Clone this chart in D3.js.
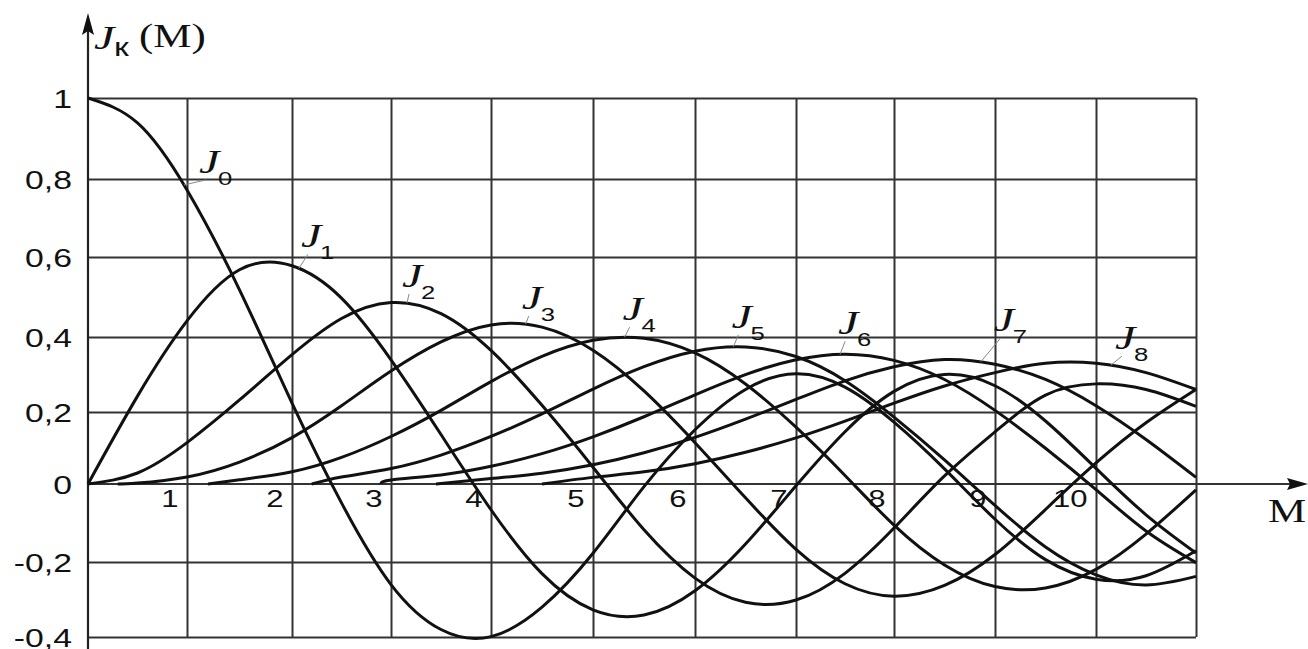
<!DOCTYPE html>
<html><head><meta charset="utf-8">
<script src="https://cdn.jsdelivr.net/npm/d3@7"></script>
<style>body{margin:0;background:#fff}svg{display:block}</style>
</head><body>
<svg id="c" width="1308" height="649"></svg>
<script>
// ---- data ----
const M = [0,0.5,1,1.5,2,2.5,3,3.5,4,4.5,5,5.5,6,6.5,7,7.5,8,8.5,9,9.5,10,10.5,11];
const J0 = [1,.9385,.7720,.5180,.2239,-.0484,-.2601,-.3801,-.3990,-.3205,-.1776,-.0068,.1506,.2601,.3020,.2663,.1717,.0419,-.0903,-.1939,-.2459,-.2366,-.1712];
const J1 = [0,.2423,.4401,.5680,.5780,.4971,.3391,.1374,-.0660,-.2311,-.3276,-.3414,-.2767,-.1538,-.0047,.1452,.2550,.3000,.2700,.1750,.0435,-.0789,-.1768];
const J2 = [0,.0306,.1149,.2321,.3528,.4461,.4861,.4586,.3641,.2178,.0466,-.1173,-.2429,-.3074,-.3014,-.2302,-.1130,.0224,.1448,.2450,.2750,.2600,.2150];
const J3 = [null,.0026,.0196,.0610,.1289,.2166,.3091,.3868,.4302,.4247,.3648,.2561,.1148,-.0354,-.1676,-.2580,-.2911,-.2626,-.1809,-.0653,.0584,.1700,.2600];
const J4 = [null,null,null,.0118,.0340,.0738,.1320,.2044,.2811,.3484,.3912,.3967,.3576,.2747,.1578,.0238,-.1054,-.2078,-.2655,-.2691,-.2196,-.1283,-.0150];
const J5 = [null,null,null,null,null,.0195,.0430,.0804,.1321,.1947,.2611,.3209,.3621,.3735,.3479,.2834,.1858,.0670,-.0550,-.1613,-.2341,-.2611,-.2383];
const J6 = [null,null,null,null,null,null,.0114,.0253,.0491,.0843,.1310,.1868,.2458,.2999,.3392,.3541,.3376,.2866,.2043,.0993,-.0145,-.1204,-.2016];
const J7 = [null,null,null,null,null,null,null,null,.0152,.0301,.0534,.0867,.1296,.1802,.2336,.2832,.3206,.3400,.3275,.2867,.2167,.1235,.0184];
const J8 = [null,null,null,null,null,null,null,null,null,null,.0184,.0339,.0565,.0882,.1280,.1745,.2235,.2694,.3051,.3300,.3300,.3050,.2600];
const seriesValues = [J0,J1,J2,J3,J4,J5,J6,J7,J8];
const seriesIndex = ["0","1","2","3","4","5","6","7","8"];
const startM = [0,0,0,0.3,1.2,2.2,2.9,3.45,4.5];      // where each curve leaves the axis
const labelM = [0.97,2.07,3.16,4.34,5.31,6.38,7.45,8.86,10.15]; // where each label's leader touches its curve
const xTicks = [1,2,3,4,5,6,7,8,9,10];
const xGrid = [1,2,3,4,5,6,7,8,9,10,11];
const yTicks = [-0.4,-0.2,0,0.2,0.4,0.6,0.8,1];
const yTickLabels = ["-0,4","-0,2","0","0,2","0,4","0,6","0,8","1"];

// ---- layout ----
const svg = d3.select("#c");
const x = d3.scaleLinear().domain(d3.range(0,12)).range([88,187,292,391,491,593,695,796,894,995,1096,1196]);
const y = d3.scaleLinear().domain(yTicks).range([637,562,484,412,337,257,179,98]);
const GRID = "#333";
const SANS = "'Liberation Sans', Arial, sans-serif";
const SERIF = "'Liberation Serif', 'Times New Roman', serif";
const SX = 1.35; // horizontal stretch of the lettering

// vertical grid
const gv = svg.append("g").attr("transform",`translate(0,${y(-0.4)})`)
  .call(d3.axisBottom(x).tickValues(xGrid).tickSize(-(y(-0.4)-y(1))).tickFormat(""));
gv.select(".domain").remove();
gv.selectAll("line").attr("stroke",GRID).attr("stroke-width",2);

// horizontal grid
const gh = svg.append("g").attr("transform",`translate(${x(0)},0)`)
  .call(d3.axisLeft(y).tickValues(yTicks.filter(v=>v!==0)).tickSize(-(x(11)-x(0))).tickFormat(""));
gh.select(".domain").remove();
gh.selectAll("line").attr("stroke",GRID).attr("stroke-width",2);

// x axis (zero line with arrow)
svg.append("line").attr("x1",x(0)).attr("x2",1292).attr("y1",y(0)).attr("y2",y(0))
  .attr("stroke",GRID).attr("stroke-width",2);
svg.append("path").attr("d",`M1308,${y(0)}L1287,${y(0)-6}L1290,${y(0)}L1287,${y(0)+6}Z`).attr("fill","#111");
// y axis with arrow
svg.append("line").attr("x1",x(0)).attr("x2",x(0)).attr("y1",649).attr("y2",30)
  .attr("stroke","#222").attr("stroke-width",2.2);
svg.append("path").attr("d",`M${x(0)},13L${x(0)-6},35L${x(0)},31L${x(0)+6},35Z`).attr("fill","#111");

// y tick labels
const ya = svg.append("g").attr("transform",`translate(${x(0)},0)`)
  .call(d3.axisLeft(y).tickValues(yTicks).tickSize(0).tickPadding(17)
    .tickFormat(v=>yTickLabels[yTicks.indexOf(v)]));
ya.select(".domain").remove();
ya.selectAll("text").attr("font-family",SANS).attr("font-size",25).attr("fill","#111")
  .attr("dy","0.38em").attr("x",0).attr("transform",`translate(-16,0) scale(${SX},1)`);

// x tick labels
const xa = svg.append("g").attr("transform",`translate(0,${y(0)})`)
  .call(d3.axisBottom(x).tickValues(xTicks).tickSize(0).tickPadding(7).tickFormat(d3.format("d")));
xa.select(".domain").remove();
xa.selectAll("text").attr("font-family",SANS).attr("font-size",23).attr("fill","#111")
  .attr("text-anchor","end").attr("transform",`translate(-9,0) scale(${SX},1)`);

// curves
const line = d3.line().x(d=>x(d[0])).y(d=>y(d[1])).curve(d3.curveNatural);
const gc = svg.append("g");
seriesValues.forEach((vals,i)=>{
  const pts = [];
  if (startM[i] > 0) pts.push([startM[i],0]);
  M.forEach((m,j)=>{ if (vals[j]!==null && m>=startM[i]) pts.push([m,vals[j]]); });
  const p = gc.append("path").datum(pts).attr("d",line)
    .attr("fill","none").attr("stroke","#111").attr("stroke-width",3).attr("stroke-linejoin","round");
  // locate point on curve at labelM
  const node = p.node(), L = node.getTotalLength(), tx = x(labelM[i]);
  let lo=0, hi=L;
  for (let k=0;k<40;k++){ const mid=(lo+hi)/2; if (node.getPointAtLength(mid).x<tx) lo=mid; else hi=mid; }
  const pt = node.getPointAtLength(lo);
  const lead = [[22,-5],[9,-14],[2,-9],[3,-8],[5,-10],[5,-12],[5,-13],[20,-24],[11,-9]][i];
  const ex = pt.x+lead[0], ey = pt.y+lead[1];
  svg.append("line").attr("x1",pt.x).attr("y1",pt.y).attr("x2",ex).attr("y2",ey)
    .attr("stroke","#888").attr("stroke-width",1);
  svg.append("text").attr("transform",`translate(${ex-7},${ey-7}) scale(${SX},1)`).text("J")
    .attr("font-family",SERIF).attr("font-style","italic").attr("font-size",34).attr("fill","#111");
  svg.append("text").attr("transform",`translate(${ex+12},${ey+5}) scale(${SX},1)`).text(seriesIndex[i])
    .attr("font-family",SANS).attr("font-size",19).attr("fill","#111");
});

// axis titles
svg.append("text").attr("transform",`translate(94,49) scale(${SX},1)`).text("J")
  .attr("font-family",SERIF).attr("font-style","italic").attr("font-size",34).attr("fill","#111");
svg.append("text").attr("transform",`translate(114,56) scale(${SX},1)`).text("к")
  .attr("font-family",SANS).attr("font-size",25).attr("fill","#111");
svg.append("text").attr("transform","translate(139,47) scale(1.3,1)").text("(M)")
  .attr("font-family",SERIF).attr("font-size",33).attr("fill","#111");
svg.append("text").attr("transform","translate(1268,522) scale(1.3,1)").text("M")
  .attr("font-family",SERIF).attr("font-size",33).attr("fill","#111");
</script>
</body></html>
